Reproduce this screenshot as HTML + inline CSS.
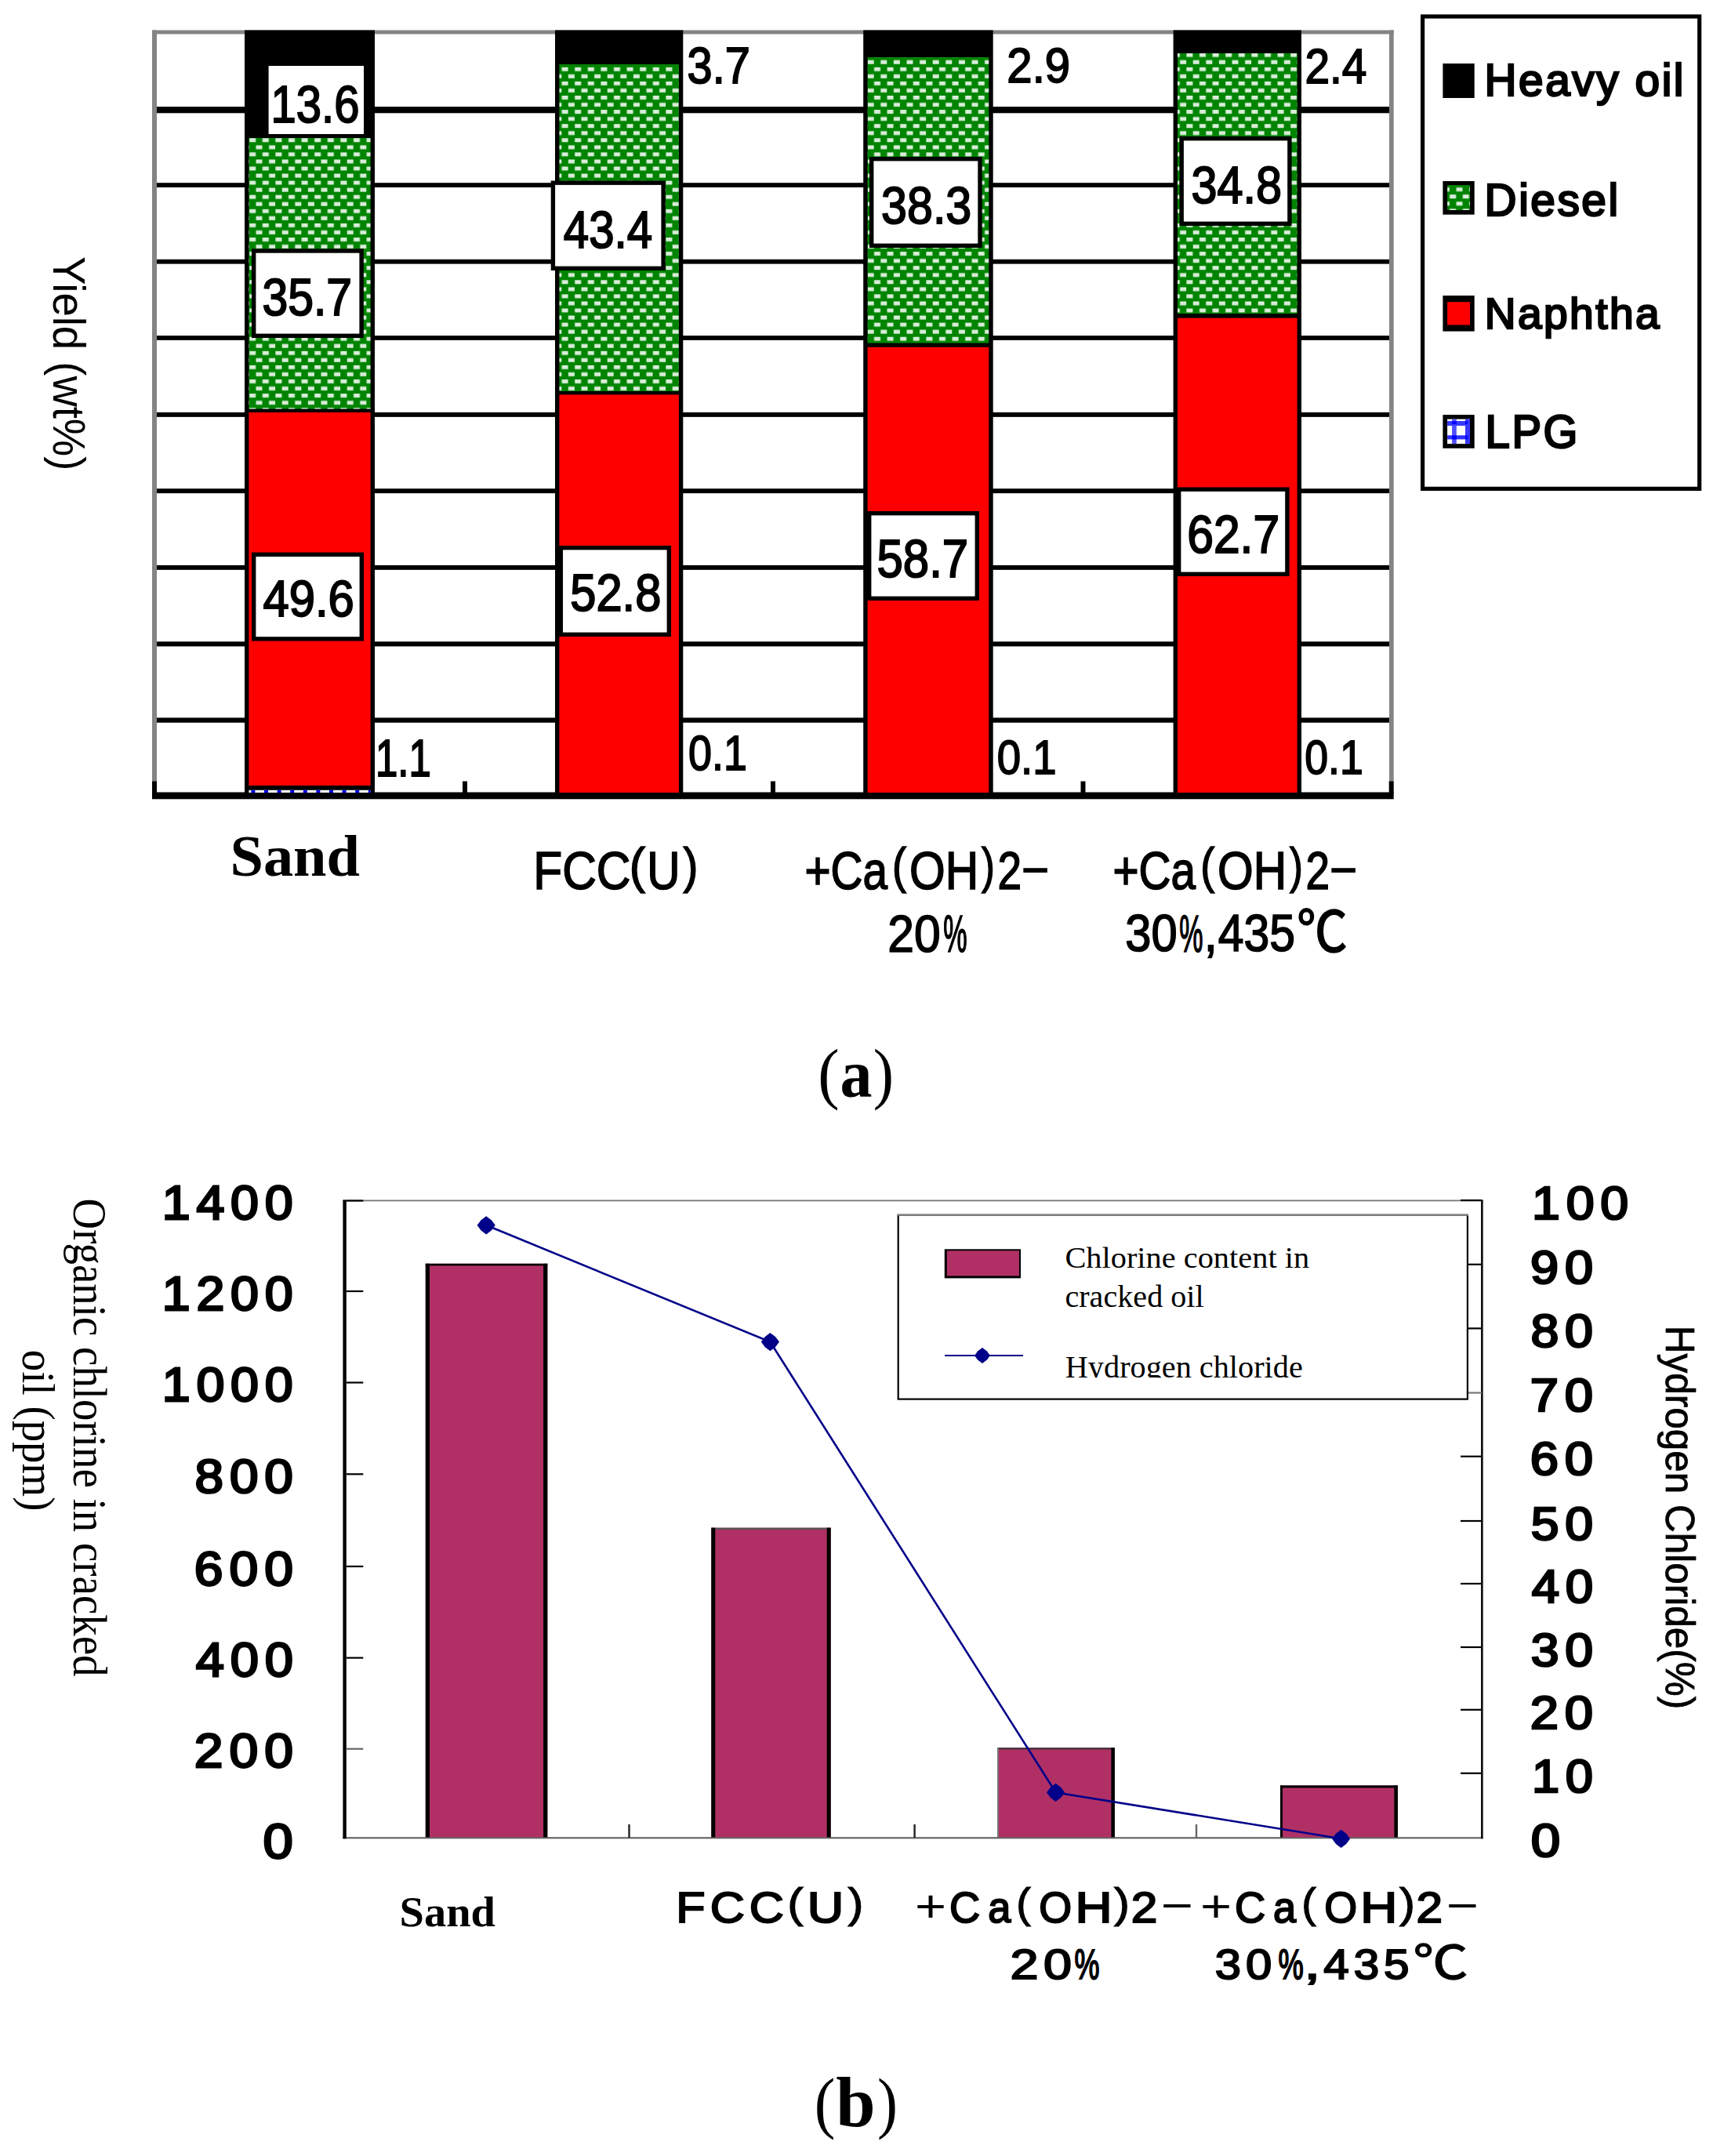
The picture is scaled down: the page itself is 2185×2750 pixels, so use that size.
<!DOCTYPE html>
<html lang="en"><head><meta charset="utf-8"><title>Figure</title>
<style>
html,body{margin:0;padding:0;background:#fff}
svg{display:block}
text{font-size:100px;fill:#000}
.s{font-family:"Liberation Sans", sans-serif}
.r{font-family:"Liberation Serif", serif}
.d{font-family:"DejaVu Sans", sans-serif}
.j{font-family:"Liberation Sans", "Noto Sans CJK JP", sans-serif}
</style></head>
<body>
<svg width="2185" height="2750" viewBox="0 0 2185 2750">
<defs>
<pattern id="dz" x="317.9" y="176.3" width="16.6" height="18.1" patternUnits="userSpaceOnUse">
<rect width="16.6" height="18.1" fill="#008400"/>
<rect x="0.3" y="0" width="8" height="5" fill="#fff" opacity="0.85"/>
<rect x="8.6" y="9.05" width="8" height="5" fill="#fff" opacity="0.85"/>
</pattern>
<clipPath id="lgclip"><rect x="1146" y="1551" width="726" height="206.3"/></clipPath>
<pattern id="dz2" x="1848.9" y="248.2" width="16.6" height="18.1" patternUnits="userSpaceOnUse">
<rect width="16.6" height="18.1" fill="#008400"/>
<rect x="0.3" y="0" width="8" height="5" fill="#fff" opacity="0.85"/>
<rect x="8.6" y="9.05" width="8" height="5" fill="#fff" opacity="0.85"/>
</pattern>

</defs>
<rect width="2185" height="2750" fill="#fff"/>
<rect x="194.00" y="38.50" width="6.00" height="958.50" fill="#848484" />
<rect x="194.00" y="38.50" width="1583.70" height="5.00" fill="#848484" />
<rect x="1772.00" y="38.50" width="5.70" height="958.50" fill="#848484" />
<rect x="200.00" y="136.10" width="1572.00" height="8.20" fill="#000" />
<rect x="200.00" y="233.20" width="1572.00" height="5.80" fill="#000" />
<rect x="200.00" y="330.80" width="1572.00" height="5.80" fill="#000" />
<rect x="200.00" y="428.10" width="1572.00" height="5.80" fill="#000" />
<rect x="200.00" y="525.95" width="1572.00" height="5.90" fill="#000" />
<rect x="200.00" y="623.25" width="1572.00" height="5.90" fill="#000" />
<rect x="200.00" y="720.95" width="1572.00" height="5.90" fill="#000" />
<rect x="200.00" y="818.35" width="1572.00" height="6.10" fill="#000" />
<rect x="200.00" y="915.45" width="1572.00" height="6.30" fill="#000" />
<rect x="194.00" y="1010.50" width="1583.70" height="8.80" fill="#000" />
<rect x="194.00" y="996.50" width="6.00" height="15.50" fill="#000" />
<rect x="590.00" y="996.50" width="6.00" height="15.50" fill="#000" />
<rect x="983.00" y="996.50" width="6.00" height="15.50" fill="#000" />
<rect x="1378.50" y="996.50" width="6.00" height="15.50" fill="#000" />
<rect x="1771.70" y="996.50" width="6.00" height="15.50" fill="#000" />
<rect x="312.00" y="38.50" width="166.00" height="973.50" fill="#000" />
<rect x="317.40" y="176.00" width="155.20" height="345.60" fill="url(#dz)" />
<rect x="317.40" y="526.00" width="155.20" height="476.00" fill="#ff0000" />
<rect x="317.40" y="1007.80" width="155.20" height="3.20" fill="#fff" />
<line x1="317.4" y1="1009.5" x2="472.6" y2="1009.5" stroke="#0000ff" stroke-width="3.2" stroke-dasharray="5 11.6" stroke-dashoffset="-3"/>
<rect x="708.00" y="38.50" width="163.30" height="973.50" fill="#000" />
<rect x="713.40" y="82.00" width="152.50" height="417.00" fill="url(#dz)" />
<rect x="713.40" y="503.40" width="152.50" height="507.60" fill="#ff0000" />
<rect x="1101.20" y="38.50" width="165.50" height="973.50" fill="#000" />
<rect x="1106.60" y="73.00" width="154.70" height="364.60" fill="url(#dz)" />
<rect x="1106.60" y="442.80" width="154.70" height="568.20" fill="#ff0000" />
<rect x="1496.60" y="38.50" width="163.40" height="973.50" fill="#000" />
<rect x="1502.00" y="68.00" width="152.60" height="332.00" fill="url(#dz)" />
<rect x="1502.00" y="405.60" width="152.60" height="605.40" fill="#ff0000" />
<rect x="342.60" y="84.00" width="121.40" height="87.00" fill="#fff" />
<rect x="321.00" y="317.30" width="142.80" height="113.70" fill="#000" />
<rect x="326.40" y="322.70" width="132.00" height="102.90" fill="#fff" />
<rect x="321.00" y="704.60" width="143.00" height="113.00" fill="#000" />
<rect x="326.40" y="710.00" width="132.20" height="102.20" fill="#fff" />
<rect x="702.70" y="230.50" width="146.10" height="114.50" fill="#000" />
<rect x="708.10" y="235.90" width="135.30" height="103.70" fill="#fff" />
<rect x="712.60" y="696.00" width="143.40" height="116.00" fill="#000" />
<rect x="718.00" y="701.40" width="132.60" height="105.20" fill="#fff" />
<rect x="1109.00" y="200.00" width="143.70" height="116.00" fill="#000" />
<rect x="1114.40" y="205.40" width="132.90" height="105.20" fill="#fff" />
<rect x="1106.00" y="652.00" width="143.00" height="114.00" fill="#000" />
<rect x="1111.40" y="657.40" width="132.20" height="103.20" fill="#fff" />
<rect x="1504.50" y="174.00" width="143.10" height="114.00" fill="#000" />
<rect x="1509.90" y="179.40" width="132.30" height="103.20" fill="#fff" />
<rect x="1501.00" y="621.50" width="143.60" height="113.50" fill="#000" />
<rect x="1506.40" y="626.90" width="132.80" height="102.70" fill="#fff" />
<rect x="1812.00" y="18.40" width="358.30" height="607.60" fill="#000" />
<rect x="1817.20" y="23.60" width="347.90" height="597.20" fill="#fff" />
<rect x="1840.40" y="81.00" width="40.30" height="44.00" fill="#000" />
<rect x="1840.40" y="231.00" width="40.30" height="42.70" fill="#000" />
<rect x="1846.10" y="236.10" width="28.90" height="31.90" fill="url(#dz2)" />
<rect x="1840.40" y="377.00" width="40.30" height="45.60" fill="#000" />
<rect x="1846.10" y="385.20" width="28.90" height="29.30" fill="#ff0000" />
<rect x="1840.40" y="529.10" width="40.30" height="42.70" fill="#000" />
<rect x="1846.10" y="534.60" width="28.90" height="31.50" fill="#fff" />
<rect x="1852.10" y="534.60" width="5.70" height="31.50" fill="#5050ff" />
<rect x="1869.00" y="534.60" width="6.00" height="31.50" fill="#3838ff" />
<rect x="1846.10" y="537.00" width="28.90" height="6.00" fill="#3838ff" />
<rect x="1846.10" y="555.30" width="28.90" height="5.10" fill="#3030ff" />
<rect x="1852.10" y="537.50" width="5.70" height="3.50" fill="#0000ff" />
<rect x="1869.00" y="537.50" width="3.00" height="3.50" fill="#0000ff" />
<rect x="1852.10" y="555.30" width="5.70" height="5.10" fill="#0000ff" />
<rect x="1869.00" y="555.30" width="3.00" height="5.10" fill="#0000ff" />
<rect x="437.40" y="1530.50" width="1454.30" height="1.80" fill="#777" />
<rect x="437.40" y="2343.40" width="1454.30" height="1.80" fill="#666" />
<rect x="542.80" y="1611.80" width="155.50" height="732.50" fill="#b03066" />
<rect x="542.80" y="1611.80" width="155.50" height="2.60" fill="#000" />
<rect x="542.80" y="1611.80" width="5.20" height="732.50" fill="#000" />
<rect x="693.10" y="1611.80" width="5.20" height="732.50" fill="#000" />
<rect x="907.30" y="1948.70" width="152.40" height="395.60" fill="#b03066" />
<rect x="907.30" y="1948.70" width="152.40" height="2.20" fill="#555" />
<rect x="907.30" y="1948.70" width="5.00" height="395.60" fill="#000" />
<rect x="1054.70" y="1948.70" width="5.00" height="395.60" fill="#000" />
<rect x="1272.00" y="2229.30" width="149.90" height="115.00" fill="#b03066" />
<rect x="1272.00" y="2229.30" width="149.90" height="2.00" fill="#333" />
<rect x="1272.00" y="2229.30" width="2.00" height="115.00" fill="#777" />
<rect x="1417.40" y="2229.30" width="4.50" height="115.00" fill="#000" />
<rect x="1633.00" y="2277.40" width="149.90" height="66.90" fill="#b03066" />
<rect x="1633.00" y="2277.40" width="149.90" height="3.00" fill="#000" />
<rect x="1633.00" y="2277.40" width="3.00" height="66.90" fill="#000" />
<rect x="1778.40" y="2277.40" width="4.50" height="66.90" fill="#000" />
<rect x="437.40" y="2343.40" width="1454.30" height="1.80" fill="#666" />
<rect x="437.40" y="1530.50" width="4.40" height="814.70" fill="#000" />
<rect x="1889.00" y="1530.50" width="2.70" height="814.70" fill="#111" />
<rect x="441.80" y="1530.40" width="21.50" height="2.20" fill="#000" />
<rect x="441.80" y="1645.90" width="21.50" height="2.20" fill="#000" />
<rect x="441.80" y="1762.40" width="21.50" height="2.20" fill="#000" />
<rect x="441.80" y="1879.20" width="21.50" height="2.20" fill="#000" />
<rect x="441.80" y="1996.90" width="21.50" height="2.20" fill="#000" />
<rect x="441.80" y="2113.50" width="21.50" height="2.20" fill="#000" />
<rect x="441.80" y="2229.60" width="21.50" height="2.20" fill="#666" />
<rect x="1863.00" y="1529.90" width="27.00" height="2.20" fill="#000" />
<rect x="1863.00" y="1611.70" width="27.00" height="2.20" fill="#000" />
<rect x="1863.00" y="1693.30" width="27.00" height="2.20" fill="#000" />
<rect x="1863.00" y="1775.40" width="27.00" height="2.20" fill="#777" />
<rect x="1863.00" y="1856.60" width="27.00" height="2.20" fill="#000" />
<rect x="1863.00" y="1938.90" width="27.00" height="2.20" fill="#000" />
<rect x="1863.00" y="2018.90" width="27.00" height="2.20" fill="#000" />
<rect x="1863.00" y="2099.90" width="27.00" height="2.20" fill="#000" />
<rect x="1863.00" y="2179.70" width="27.00" height="2.20" fill="#000" />
<rect x="1863.00" y="2260.70" width="27.00" height="2.20" fill="#000" />
<rect x="801.30" y="2327.00" width="2.40" height="17.00" fill="#222" />
<rect x="1165.40" y="2327.00" width="2.40" height="17.00" fill="#222" />
<rect x="1524.80" y="2327.00" width="2.40" height="17.00" fill="#666" />
<polyline fill="none" stroke="#000088" stroke-width="2.6" points="620.2,1562.8 982.4,1711.6 1346.6,2286.3 1710.6,2345.3"/>
<polygon fill="#000088" points="608.6,1562.8 613.6,1556.2 620.2,1551.2 626.8000000000001,1556.2 631.8000000000001,1562.8 626.8000000000001,1569.3999999999999 620.2,1574.3999999999999 613.6,1569.3999999999999"/>
<polygon fill="#000088" points="970.8,1711.6 975.8,1705.0 982.4,1700.0 989.0,1705.0 994.0,1711.6 989.0,1718.1999999999998 982.4,1723.1999999999998 975.8,1718.1999999999998"/>
<polygon fill="#000088" points="1335.0,2286.3 1340.0,2279.7000000000003 1346.6,2274.7000000000003 1353.1999999999998,2279.7000000000003 1358.1999999999998,2286.3 1353.1999999999998,2292.9 1346.6,2297.9 1340.0,2292.9"/>
<polygon fill="#000088" points="1699.0,2345.3 1704.0,2338.7000000000003 1710.6,2333.7000000000003 1717.1999999999998,2338.7000000000003 1722.1999999999998,2345.3 1717.1999999999998,2351.9 1710.6,2356.9 1704.0,2351.9"/>
<rect x="1144.60" y="1548.70" width="728.40" height="237.00" fill="#000" />
<rect x="1146.80" y="1550.70" width="724.00" height="232.80" fill="#fff" />
<rect x="1144.60" y="1548.70" width="728.40" height="2.00" fill="#888" />
<rect x="1204.80" y="1593.30" width="97.20" height="37.10" fill="#000" />
<rect x="1207.80" y="1595.30" width="92.20" height="32.10" fill="#b03066" />
<line x1="1205" y1="1729" x2="1305" y2="1729" stroke="#000088" stroke-width="2.2"/>
<polygon fill="#000088" points="1243,1729 1247.3,1723.3 1253,1719 1258.7,1723.3 1263,1729 1258.7,1734.7 1253,1739 1247.3,1734.7"/>
<text class="s" stroke="#000" stroke-width="3" stroke-linejoin="miter" stroke-miterlimit="2.5" transform="translate(345.52,155.62) scale(0.5801,0.6716)" xml:space="preserve">13.6</text>
<text class="s" stroke="#000" stroke-width="3" stroke-linejoin="miter" stroke-miterlimit="2.5" transform="translate(334.42,401.63) scale(0.5894,0.6662)" xml:space="preserve">35.7</text>
<text class="s" stroke="#000" stroke-width="3" stroke-linejoin="miter" stroke-miterlimit="2.5" transform="translate(335.40,786.17) scale(0.5984,0.6500)" xml:space="preserve">49.6</text>
<text class="s" stroke="#000" stroke-width="3" stroke-linejoin="miter" stroke-miterlimit="2.5" transform="translate(718.82,316.31) scale(0.5823,0.6757)" xml:space="preserve">43.4</text>
<text class="s" stroke="#000" stroke-width="3" stroke-linejoin="miter" stroke-miterlimit="2.5" transform="translate(727.31,779.34) scale(0.5963,0.6622)" xml:space="preserve">52.8</text>
<text class="s" stroke="#000" stroke-width="3" stroke-linejoin="miter" stroke-miterlimit="2.5" transform="translate(1124.12,285.14) scale(0.5916,0.6635)" xml:space="preserve">38.3</text>
<text class="s" stroke="#000" stroke-width="3" stroke-linejoin="miter" stroke-miterlimit="2.5" transform="translate(1118.50,735.79) scale(0.5995,0.6824)" xml:space="preserve">58.7</text>
<text class="s" stroke="#000" stroke-width="3" stroke-linejoin="miter" stroke-miterlimit="2.5" transform="translate(1519.51,258.84) scale(0.5942,0.6622)" xml:space="preserve">34.8</text>
<text class="s" stroke="#000" stroke-width="3" stroke-linejoin="miter" stroke-miterlimit="2.5" transform="translate(1514.18,705.10) scale(0.6064,0.6797)" xml:space="preserve">62.7</text>
<text class="s" stroke="#000" stroke-width="3" stroke-linejoin="miter" stroke-miterlimit="2.5" transform="translate(876.54,105.97) scale(0.5775,0.6514)" xml:space="preserve">3.7</text>
<text class="s" stroke="#000" stroke-width="3" stroke-linejoin="miter" stroke-miterlimit="2.5" transform="translate(1284.37,105.45) scale(0.5803,0.6216)" xml:space="preserve">2.9</text>
<text class="s" stroke="#000" stroke-width="3" stroke-linejoin="miter" stroke-miterlimit="2.5" transform="translate(1664.51,106.05) scale(0.5679,0.6301)" xml:space="preserve">2.4</text>
<text class="s" stroke="#000" stroke-width="3" stroke-linejoin="miter" stroke-miterlimit="2.5" transform="translate(478.94,990.00) scale(0.5097,0.6667)" xml:space="preserve">1.1</text>
<text class="s" stroke="#000" stroke-width="3" stroke-linejoin="miter" stroke-miterlimit="2.5" transform="translate(878.05,982.41) scale(0.5383,0.6351)" xml:space="preserve">0.1</text>
<text class="s" stroke="#000" stroke-width="3" stroke-linejoin="miter" stroke-miterlimit="2.5" transform="translate(1271.64,987.19) scale(0.5459,0.6041)" xml:space="preserve">0.1</text>
<text class="s" stroke="#000" stroke-width="3" stroke-linejoin="miter" stroke-miterlimit="2.5" transform="translate(1664.26,987.48) scale(0.5368,0.6081)" xml:space="preserve">0.1</text>
<text class="r" font-weight="bold" transform="translate(293.50,1116.76) scale(0.7633,0.7357)" xml:space="preserve">Sand</text>
<g><text class="s" stroke="#000" stroke-width="2.5" stroke-linejoin="miter" stroke-miterlimit="2.5" transform="translate(680.27,1133.51) scale(0.6046,0.6873)" xml:space="preserve">FCC</text><text class="s" stroke="#000" stroke-width="2.5" stroke-linejoin="miter" stroke-miterlimit="2.5" transform="translate(802.77,1125.75) scale(0.6067,0.6251)" xml:space="preserve">(</text><text class="s" stroke="#000" stroke-width="2.5" stroke-linejoin="miter" stroke-miterlimit="2.5" transform="translate(825.19,1133.51) scale(0.5864,0.6873)" xml:space="preserve">U</text><text class="s" stroke="#000" stroke-width="2.5" stroke-linejoin="miter" stroke-miterlimit="2.5" transform="translate(871.53,1125.75) scale(0.5672,0.6251)" xml:space="preserve">)</text></g>
<g><text class="s" stroke="#000" stroke-width="2.5" stroke-linejoin="miter" stroke-miterlimit="2.5" transform="translate(1026.42,1133.51) scale(0.5663,0.6873)" xml:space="preserve">+Ca</text><text class="s" stroke="#000" stroke-width="2.5" stroke-linejoin="miter" stroke-miterlimit="2.5" transform="translate(1138.10,1125.75) scale(0.5400,0.6251)" xml:space="preserve">(</text><text class="s" stroke="#000" stroke-width="2.5" stroke-linejoin="miter" stroke-miterlimit="2.5" transform="translate(1159.94,1133.51) scale(0.5878,0.6873)" xml:space="preserve">OH</text><text class="s" stroke="#000" stroke-width="2.5" stroke-linejoin="miter" stroke-miterlimit="2.5" transform="translate(1252.01,1125.75) scale(0.5049,0.6251)" xml:space="preserve">)</text><text class="s" stroke="#000" stroke-width="2.5" stroke-linejoin="miter" stroke-miterlimit="2.5" transform="translate(1272.40,1133.52) scale(0.5500,0.6778)" xml:space="preserve">2</text><text class="s" transform="translate(1299.66,1129.88) scale(1.2531,0.7500)" xml:space="preserve">-</text></g>
<g><text class="s" stroke="#000" stroke-width="2.5" stroke-linejoin="miter" stroke-miterlimit="2.5" transform="translate(1419.52,1133.51) scale(0.5663,0.6873)" xml:space="preserve">+Ca</text><text class="s" stroke="#000" stroke-width="2.5" stroke-linejoin="miter" stroke-miterlimit="2.5" transform="translate(1531.20,1125.75) scale(0.5400,0.6251)" xml:space="preserve">(</text><text class="s" stroke="#000" stroke-width="2.5" stroke-linejoin="miter" stroke-miterlimit="2.5" transform="translate(1553.04,1133.51) scale(0.5878,0.6873)" xml:space="preserve">OH</text><text class="s" stroke="#000" stroke-width="2.5" stroke-linejoin="miter" stroke-miterlimit="2.5" transform="translate(1645.11,1125.75) scale(0.5049,0.6251)" xml:space="preserve">)</text><text class="s" stroke="#000" stroke-width="2.5" stroke-linejoin="miter" stroke-miterlimit="2.5" transform="translate(1665.50,1133.52) scale(0.5500,0.6778)" xml:space="preserve">2</text><text class="s" transform="translate(1692.76,1129.88) scale(1.2531,0.7500)" xml:space="preserve">-</text></g>
<g><text class="s" stroke="#000" stroke-width="2.5" stroke-linejoin="miter" stroke-miterlimit="2.5" transform="translate(1132.17,1213.96) scale(0.6067,0.6712)" xml:space="preserve">20</text><text class="s" stroke="#000" stroke-width="2.5" stroke-linejoin="miter" stroke-miterlimit="2.5" transform="translate(1203.15,1214.29) scale(0.3417,0.6759)" xml:space="preserve">%</text></g>
<g><text class="s" stroke="#000" stroke-width="2.5" stroke-linejoin="miter" stroke-miterlimit="2.5" transform="translate(1435.31,1213.47) scale(0.5972,0.6644)" xml:space="preserve">30</text><text class="s" stroke="#000" stroke-width="2.5" stroke-linejoin="miter" stroke-miterlimit="2.5" transform="translate(1504.35,1213.80) scale(0.3405,0.6690)" xml:space="preserve">%</text><text class="s" stroke="#000" stroke-width="2.5" stroke-linejoin="miter" stroke-miterlimit="2.5" transform="translate(1535.69,1213.03) scale(0.6154,0.6692)" xml:space="preserve">,</text><text class="s" stroke="#000" stroke-width="2.5" stroke-linejoin="miter" stroke-miterlimit="2.5" transform="translate(1553.71,1213.47) scale(0.5890,0.6644)" xml:space="preserve">435</text><text class="j" stroke="#000" stroke-width="2.5" stroke-linejoin="miter" stroke-miterlimit="2.5" transform="translate(1654.14,1213.02) scale(0.6449,0.7100)" xml:space="preserve">℃</text></g>
<text class="s" letter-spacing="4.50" stroke="#000" stroke-width="4.4" stroke-linejoin="miter" stroke-miterlimit="2.5" transform="translate(1893.59,121.56) scale(0.5675,0.5713)" xml:space="preserve">Heavy oil</text>
<text class="s" letter-spacing="4.50" stroke="#000" stroke-width="4.4" stroke-linejoin="miter" stroke-miterlimit="2.5" transform="translate(1893.59,275.26) scale(0.5676,0.5806)" xml:space="preserve">Diesel</text>
<text class="s" letter-spacing="4.50" stroke="#000" stroke-width="4.4" stroke-linejoin="miter" stroke-miterlimit="2.5" transform="translate(1893.70,418.96) scale(0.5504,0.5497)" xml:space="preserve">Naphtha</text>
<text class="s" letter-spacing="4.50" stroke="#000" stroke-width="4.4" stroke-linejoin="miter" stroke-miterlimit="2.5" transform="translate(1894.62,570.62) scale(0.5636,0.5920)" xml:space="preserve">LPG</text>
<text class="s" transform="translate(68.13,327.04) rotate(90) scale(0.5448,0.5775)" xml:space="preserve">Yield (wt%)</text>
<g><text class="r" transform="translate(1043.29,1398.45) scale(0.8235,0.8644)" xml:space="preserve">(</text><text class="r" font-weight="bold" transform="translate(1071.54,1398.86) scale(0.8198,0.8737)" xml:space="preserve">a</text><text class="r" transform="translate(1113.63,1398.45) scale(0.7885,0.8644)" xml:space="preserve">)</text></g>
<text class="r" transform="translate(1358.38,1616.62) scale(0.4039,0.3830)" xml:space="preserve">Chlorine content in</text>
<text class="r" transform="translate(1358.39,1666.61) scale(0.4018,0.3929)" xml:space="preserve">cracked oil</text>
<g clip-path="url(#lgclip)"><text class="r" transform="translate(1358.79,1757.00) scale(0.4028,0.3969)" xml:space="preserve">Hydrogen chloride</text></g>
<text class="s" letter-spacing="12.00" stroke="#000" stroke-width="4.5" stroke-linejoin="miter" stroke-miterlimit="2.5" transform="translate(206.75,1555.16) scale(0.6457,0.6133)" xml:space="preserve">1400</text>
<text class="s" letter-spacing="12.00" stroke="#000" stroke-width="4.5" stroke-linejoin="miter" stroke-miterlimit="2.5" transform="translate(206.75,1670.66) scale(0.6457,0.6133)" xml:space="preserve">1200</text>
<text class="s" letter-spacing="12.00" stroke="#000" stroke-width="4.5" stroke-linejoin="miter" stroke-miterlimit="2.5" transform="translate(206.75,1787.16) scale(0.6457,0.6133)" xml:space="preserve">1000</text>
<text class="s" letter-spacing="12.00" stroke="#000" stroke-width="4.5" stroke-linejoin="miter" stroke-miterlimit="2.5" transform="translate(248.49,1903.97) scale(0.6572,0.6093)" xml:space="preserve">800</text>
<text class="s" letter-spacing="12.00" stroke="#000" stroke-width="4.5" stroke-linejoin="miter" stroke-miterlimit="2.5" transform="translate(247.82,2021.66) scale(0.6608,0.6133)" xml:space="preserve">600</text>
<text class="s" letter-spacing="12.00" stroke="#000" stroke-width="4.5" stroke-linejoin="miter" stroke-miterlimit="2.5" transform="translate(249.80,2138.26) scale(0.6503,0.6133)" xml:space="preserve">400</text>
<text class="s" letter-spacing="12.00" stroke="#000" stroke-width="4.5" stroke-linejoin="miter" stroke-miterlimit="2.5" transform="translate(247.82,2254.36) scale(0.6608,0.6133)" xml:space="preserve">200</text>
<text class="s" stroke="#000" stroke-width="4.5" stroke-linejoin="miter" stroke-miterlimit="2.5" transform="translate(335.57,2370.12) scale(0.6876,0.6267)" xml:space="preserve">0</text>
<text class="s" letter-spacing="12.00" stroke="#000" stroke-width="4.5" stroke-linejoin="miter" stroke-miterlimit="2.5" transform="translate(1954.05,1554.70) scale(0.6447,0.6000)" xml:space="preserve">100</text>
<text class="s" letter-spacing="12.00" stroke="#000" stroke-width="4.5" stroke-linejoin="miter" stroke-miterlimit="2.5" transform="translate(1952.08,1636.50) scale(0.6487,0.6000)" xml:space="preserve">90</text>
<text class="s" letter-spacing="12.00" stroke="#000" stroke-width="4.5" stroke-linejoin="miter" stroke-miterlimit="2.5" transform="translate(1952.41,1718.11) scale(0.6460,0.5960)" xml:space="preserve">80</text>
<text class="s" letter-spacing="12.00" stroke="#000" stroke-width="4.5" stroke-linejoin="miter" stroke-miterlimit="2.5" transform="translate(1951.75,1800.20) scale(0.6515,0.6000)" xml:space="preserve">70</text>
<text class="s" letter-spacing="12.00" stroke="#000" stroke-width="4.5" stroke-linejoin="miter" stroke-miterlimit="2.5" transform="translate(1951.75,1881.40) scale(0.6515,0.6000)" xml:space="preserve">60</text>
<text class="s" letter-spacing="12.00" stroke="#000" stroke-width="4.5" stroke-linejoin="miter" stroke-miterlimit="2.5" transform="translate(1952.74,1963.70) scale(0.6433,0.6000)" xml:space="preserve">50</text>
<text class="s" letter-spacing="12.00" stroke="#000" stroke-width="4.5" stroke-linejoin="miter" stroke-miterlimit="2.5" transform="translate(1953.70,2043.70) scale(0.6354,0.6000)" xml:space="preserve">40</text>
<text class="s" letter-spacing="12.00" stroke="#000" stroke-width="4.5" stroke-linejoin="miter" stroke-miterlimit="2.5" transform="translate(1952.74,2124.70) scale(0.6433,0.6000)" xml:space="preserve">30</text>
<text class="s" letter-spacing="12.00" stroke="#000" stroke-width="4.5" stroke-linejoin="miter" stroke-miterlimit="2.5" transform="translate(1951.75,2204.50) scale(0.6515,0.6000)" xml:space="preserve">20</text>
<text class="s" letter-spacing="12.00" stroke="#000" stroke-width="4.5" stroke-linejoin="miter" stroke-miterlimit="2.5" transform="translate(1954.12,2285.50) scale(0.6319,0.6000)" xml:space="preserve">10</text>
<text class="s" letter-spacing="12.00" stroke="#000" stroke-width="4.5" stroke-linejoin="miter" stroke-miterlimit="2.5" transform="translate(1952.69,2368.00) scale(0.6724,0.6000)" xml:space="preserve">0</text>
<text class="r" transform="translate(93.69,1528.60) rotate(90) scale(0.5488,0.6044)" xml:space="preserve">Organic chlorine in cracked</text>
<text class="r" transform="translate(28.55,1721.81) rotate(90) scale(0.5484,0.5978)" xml:space="preserve">oil (ppm)</text>
<text class="s" stroke="#000" stroke-width="1.5" stroke-linejoin="miter" stroke-miterlimit="2.5" transform="translate(2125.06,1690.69) rotate(90) scale(0.4950,0.5171)" xml:space="preserve">Hydrogen Chloride(%)</text>
<text class="r" font-weight="bold" transform="translate(509.60,2457.05) scale(0.5643,0.5543)" xml:space="preserve">Sand</text>
<g><text class="s" letter-spacing="10.00" stroke="#000" stroke-width="3.7" stroke-linejoin="miter" stroke-miterlimit="2.5" transform="translate(862.23,2452.27) scale(0.6106,0.5630)" xml:space="preserve">FCC</text><text class="s" stroke="#000" stroke-width="2.22" stroke-linejoin="miter" stroke-miterlimit="2.5" transform="translate(1004.13,2446.16) scale(0.6133,0.5382)" xml:space="preserve">(</text><text class="s" stroke="#000" stroke-width="3.7" stroke-linejoin="miter" stroke-miterlimit="2.5" transform="translate(1029.84,2452.27) scale(0.6430,0.5630)" xml:space="preserve">U</text><text class="s" stroke="#000" stroke-width="2.22" stroke-linejoin="miter" stroke-miterlimit="2.5" transform="translate(1081.59,2446.16) scale(0.5966,0.5382)" xml:space="preserve">)</text></g>
<g><text class="s" transform="translate(1167.07,2450.61) scale(0.6866,0.5673)" xml:space="preserve">+</text><text class="s" stroke="#000" stroke-width="3.7" stroke-linejoin="miter" stroke-miterlimit="2.5" transform="translate(1211.07,2452.27) scale(0.5422,0.5630)" xml:space="preserve">C</text><text class="s" stroke="#000" stroke-width="3.7" stroke-linejoin="miter" stroke-miterlimit="2.5" transform="translate(1260.19,2452.27) scale(0.5236,0.5630)" xml:space="preserve">a</text><text class="s" stroke="#000" stroke-width="2.22" stroke-linejoin="miter" stroke-miterlimit="2.5" transform="translate(1296.32,2446.16) scale(0.5567,0.5382)" xml:space="preserve">(</text><text class="s" stroke="#000" stroke-width="3.7" stroke-linejoin="miter" stroke-miterlimit="2.5" transform="translate(1325.28,2452.27) scale(0.5389,0.5630)" xml:space="preserve">O</text><text class="s" stroke="#000" stroke-width="3.7" stroke-linejoin="miter" stroke-miterlimit="2.5" transform="translate(1371.46,2452.27) scale(0.6521,0.5630)" xml:space="preserve">H</text><text class="s" stroke="#000" stroke-width="2.22" stroke-linejoin="miter" stroke-miterlimit="2.5" transform="translate(1421.00,2446.16) scale(0.6000,0.5382)" xml:space="preserve">)</text><text class="s" stroke="#000" stroke-width="3.7" stroke-linejoin="miter" stroke-miterlimit="2.5" transform="translate(1442.69,2452.29) scale(0.6040,0.5554)" xml:space="preserve">2</text><text class="s" transform="translate(1478.08,2443.75) scale(1.4041,0.5000)" xml:space="preserve">-</text></g>
<g><text class="s" transform="translate(1530.97,2450.61) scale(0.6866,0.5673)" xml:space="preserve">+</text><text class="s" stroke="#000" stroke-width="3.7" stroke-linejoin="miter" stroke-miterlimit="2.5" transform="translate(1574.97,2452.27) scale(0.5422,0.5630)" xml:space="preserve">C</text><text class="s" stroke="#000" stroke-width="3.7" stroke-linejoin="miter" stroke-miterlimit="2.5" transform="translate(1624.09,2452.27) scale(0.5236,0.5630)" xml:space="preserve">a</text><text class="s" stroke="#000" stroke-width="2.22" stroke-linejoin="miter" stroke-miterlimit="2.5" transform="translate(1660.22,2446.16) scale(0.5567,0.5382)" xml:space="preserve">(</text><text class="s" stroke="#000" stroke-width="3.7" stroke-linejoin="miter" stroke-miterlimit="2.5" transform="translate(1689.18,2452.27) scale(0.5389,0.5630)" xml:space="preserve">O</text><text class="s" stroke="#000" stroke-width="3.7" stroke-linejoin="miter" stroke-miterlimit="2.5" transform="translate(1735.36,2452.27) scale(0.6521,0.5630)" xml:space="preserve">H</text><text class="s" stroke="#000" stroke-width="2.22" stroke-linejoin="miter" stroke-miterlimit="2.5" transform="translate(1784.90,2446.16) scale(0.6000,0.5382)" xml:space="preserve">)</text><text class="s" stroke="#000" stroke-width="3.7" stroke-linejoin="miter" stroke-miterlimit="2.5" transform="translate(1806.59,2452.29) scale(0.6040,0.5554)" xml:space="preserve">2</text><text class="s" transform="translate(1841.98,2443.75) scale(1.4041,0.5000)" xml:space="preserve">-</text></g>
<g><text class="s" letter-spacing="10.00" stroke="#000" stroke-width="3.7" stroke-linejoin="miter" stroke-miterlimit="2.5" transform="translate(1288.56,2523.70) scale(0.6483,0.5320)" xml:space="preserve">20</text><text class="s" stroke="#000" stroke-width="3.7" stroke-linejoin="miter" stroke-miterlimit="2.5" transform="translate(1370.46,2523.95) scale(0.3591,0.5392)" xml:space="preserve">%</text></g>
<g><text class="s" letter-spacing="10.00" stroke="#000" stroke-width="3.7" stroke-linejoin="miter" stroke-miterlimit="2.5" transform="translate(1549.80,2523.70) scale(0.5983,0.5320)" xml:space="preserve">30</text><text class="s" stroke="#000" stroke-width="3.7" stroke-linejoin="miter" stroke-miterlimit="2.5" transform="translate(1630.46,2523.95) scale(0.3626,0.5392)" xml:space="preserve">%</text><text class="s" stroke="#000" stroke-width="3.7" stroke-linejoin="miter" stroke-miterlimit="2.5" transform="translate(1663.43,2524.21) scale(0.7400,0.5370)" xml:space="preserve">,</text><text class="s" letter-spacing="10.00" stroke="#000" stroke-width="3.7" stroke-linejoin="miter" stroke-miterlimit="2.5" transform="translate(1688.31,2523.70) scale(0.5848,0.5320)" xml:space="preserve">435</text><text class="j" stroke="#000" stroke-width="2.2" stroke-linejoin="miter" stroke-miterlimit="2.5" transform="translate(1802.55,2523.81) scale(0.7005,0.5963)" xml:space="preserve">℃</text></g>
<g><text class="r" transform="translate(1038.80,2711.34) scale(0.8000,0.8600)" xml:space="preserve">(</text><text class="r" font-weight="bold" transform="translate(1066.34,2712.10) scale(0.9060,0.9000)" xml:space="preserve">b</text><text class="r" transform="translate(1119.06,2711.34) scale(0.7808,0.8600)" xml:space="preserve">)</text></g>
</svg>
</body></html>
